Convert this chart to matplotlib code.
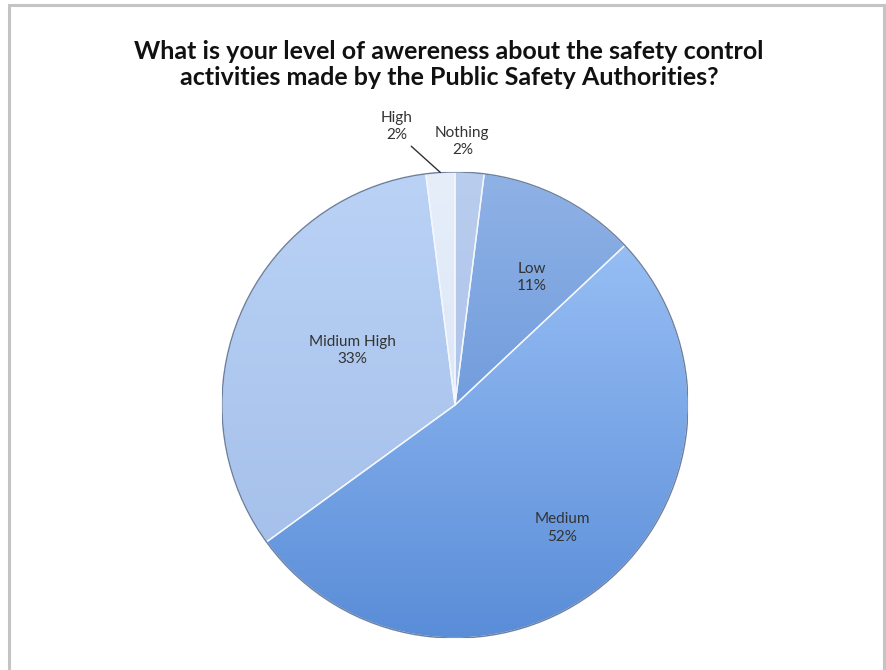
import numpy as np
import matplotlib
matplotlib.use("Agg")
import matplotlib.pyplot as plt
from matplotlib.colors import LinearSegmentedColormap
from matplotlib.patches import Rectangle, Wedge

plt.rcParams["font.family"] = ["Lato", "DejaVu Sans"]

# データ
labels = ["Nothing", "Low", "Medium", "Midium High", "High"]
values = [2, 11, 52, 33, 2]
title = "What is your level of awereness about the safety control\nactivities made by the Public Safety Authorities?"

# 上→下のグラデーション色
top_colors = ["#b9cdee", "#8fb2e6", "#a2c7fa", "#bad2f5", "#e6eefa"]
bottom_colors = ["#a3bbe4", "#5487d2", "#5a8dd8", "#a0bce8", "#d4e0f4"]

# ラベル位置（半径, 角度のずれ）
label_r = [1.13, 0.64, 0.70, 0.50, 1.22]
label_shift = [2, -4, 1.5, -4.5, 8.3]

fig = plt.figure(figsize=(8.86, 6.7), dpi=100)
fig.patches.append(Rectangle((9 / 886, -0.1), 875 / 886, 1.1 - 5 / 670,
                             transform=fig.transFigure, fill=False,
                             edgecolor="#c4c4c4", linewidth=2.2))

cx, cy, r = 455, 405, 233
ax = fig.add_axes([(cx - r) / 886, (670 - cy - r) / 670, 2 * r / 886, 2 * r / 670])

wedges, _ = ax.pie(values, startangle=90, counterclock=False, radius=1,
                   colors=top_colors,
                   wedgeprops=dict(edgecolor="#eef3fb", linewidth=1.0))

grad = np.linspace(0, 1, 256).reshape(-1, 1)
for w, c0, c1 in zip(wedges, top_colors, bottom_colors):
    cmap = LinearSegmentedColormap.from_list("g", [c0, c1])
    im = ax.imshow(grad, extent=[-1, 1, -1, 1], origin="upper", cmap=cmap,
                   aspect="auto", zorder=w.get_zorder() + 0.1)
    im.set_clip_path(w)
    # 縁取り
    ax.add_patch(Wedge(w.center, w.r, w.theta1, w.theta2,
                       facecolor="none", edgecolor="#f4f7fc",
                       linewidth=1.0, zorder=w.get_zorder() + 0.2))

# 外周
outer = plt.Circle((0, 0), 1.0, facecolor="none", edgecolor="#6c7f9f",
                   linewidth=1.0, zorder=5)
ax.add_patch(outer)

for w, lab, v, lr, sh in zip(wedges, labels, values, label_r, label_shift):
    ang = np.deg2rad((w.theta1 + w.theta2) / 2 + sh)
    x, y = lr * np.cos(ang), lr * np.sin(ang)
    txt = f"{lab}\n{v}%"
    if lab == "High":
        a0 = np.deg2rad((w.theta1 + w.theta2) / 2)
        ax.annotate(txt, xy=(np.cos(a0), np.sin(a0)), xytext=(x, y),
                    ha="center", va="center", fontsize=11, color="#333333",
                    linespacing=1.3, zorder=10,
                    arrowprops=dict(arrowstyle="-", color="#333333", lw=1.0,
                                    shrinkA=1, shrinkB=0,
                                    connectionstyle="angle,angleA=0,angleB=-42,rad=0",
                                    relpos=(1.0, 0.22)))
    else:
        ax.text(x, y, txt, ha="center", va="center", fontsize=11,
                color="#333333", linespacing=1.3, zorder=10)

ax.set_xlim(-1, 1)
ax.set_ylim(-1, 1)
ax.set_aspect("auto")
ax.axis("off")

fig.text(0.507, 0.904, title, ha="center", va="center", fontsize=18,
         fontweight="bold", color="#111111", linespacing=1.15)

fig.savefig("out.png", dpi=100, facecolor="white")
